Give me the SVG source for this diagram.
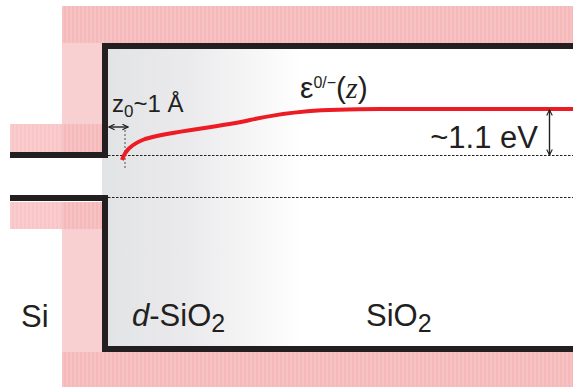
<svg xmlns="http://www.w3.org/2000/svg" width="573" height="387" viewBox="0 0 573 387">
<defs>
<style>
.lbl{font-family:"Liberation Sans",Arial,sans-serif;fill:#231f20}
.wall{fill:none;stroke:#231f20;stroke-width:6;stroke-linejoin:miter}
.dot{stroke:#231f20;stroke-width:1;stroke-dasharray:2.5,1.5;fill:none}
.arr{stroke:#231f20;stroke-width:1.4;fill:none}
</style>
<linearGradient id="grey" x1="0" y1="0" x2="1" y2="0">
<stop offset="0" stop-color="#e2e3e5"/>
<stop offset="0.45" stop-color="#ebebed"/>
<stop offset="1" stop-color="#ffffff"/>
</linearGradient>
<pattern id="stripe" width="4" height="10" patternUnits="userSpaceOnUse">
<rect width="4" height="10" fill="#f6b9ba"/>
<rect x="2.5" width="1" height="10" fill="#f9cbcc"/>
</pattern>
<pattern id="stripe2" width="4" height="10" patternUnits="userSpaceOnUse">
<rect width="4" height="10" fill="#f9c6c7"/>
<rect x="2.5" width="1" height="10" fill="#fbd3d4"/>
</pattern>
<marker id="ah" viewBox="0 0 10 10" refX="9" refY="5" markerWidth="7" markerHeight="7" orient="auto-start-reverse" markerUnits="userSpaceOnUse">
<path d="M1,1 L9,5 L1,9" fill="none" stroke="#231f20" stroke-width="1.6"/>
</marker>
</defs>
<rect width="573" height="387" fill="#ffffff"/>
<g id="si">
<rect x="62" y="42" width="41" height="110" fill="#f8d0d1"/>
<rect x="62" y="202" width="41" height="150" fill="#f8d0d1"/>
<rect x="10" y="124" width="52" height="28" fill="url(#stripe2)"/>
<rect x="62" y="124" width="41" height="28" fill="url(#stripe)"/>
<rect x="10" y="202" width="52" height="27" fill="url(#stripe2)"/>
<rect x="62" y="202" width="41" height="27" fill="url(#stripe)"/>
<text class="lbl" x="21" y="327" font-size="31">Si</text>
</g>
<g id="bands">
<rect x="62" y="6" width="511" height="37" fill="url(#stripe)"/>
<rect x="62" y="352" width="511" height="35" fill="url(#stripe)"/>
</g>
<g id="d-sio2">
<rect x="102" y="46" width="200" height="303" fill="url(#grey)"/>
<text class="lbl" x="132" y="326" font-size="31"><tspan font-style="italic">d</tspan>-SiO<tspan font-size="25" dy="6">2</tspan></text>
</g>
<g id="sio2">
<text class="lbl" x="366" y="326" font-size="31">SiO<tspan font-size="25" dy="6">2</tspan></text>
</g>
<g id="walls">
<path class="wall" d="M10,155 H105 V46 H573"/>
<path class="wall" d="M10,198 H105 V349 H573"/>
</g>
<g id="connectors">
<line class="dot" x1="108" y1="155.5" x2="573" y2="155.5"/>
<line class="dot" x1="108" y1="197.5" x2="573" y2="197.5"/>
<line x1="125" y1="130" x2="125" y2="169" stroke="#9a9a9a" stroke-width="2" stroke-dasharray="2,2"/>
<path d="M122,160 C125,151 130,145 145,139 C170,131 215,128 250,120 C290,111 320,109.3 380,109 L573,109" fill="none" stroke="#ed1c24" stroke-width="4"/>
<line class="arr" x1="109" y1="127" x2="128" y2="127" marker-start="url(#ah)" marker-end="url(#ah)"/>
<line class="arr" x1="549.5" y1="110" x2="549.5" y2="155" marker-start="url(#ah)" marker-end="url(#ah)"/>
</g>
<g id="labels">
<text class="lbl" x="112" y="112" font-size="24">z<tspan font-size="17" dy="5">0</tspan><tspan dy="-5">~1 Å</tspan></text>
<text class="lbl" x="300" y="98" font-size="30">ε<tspan font-size="16" dy="-10">0/−</tspan><tspan dy="10">(</tspan><tspan font-family="Liberation Serif" font-style="italic">z</tspan>)</text>
<text class="lbl" x="538" y="148" font-size="31" text-anchor="end">~1.1 eV</text>
</g>
</svg>
